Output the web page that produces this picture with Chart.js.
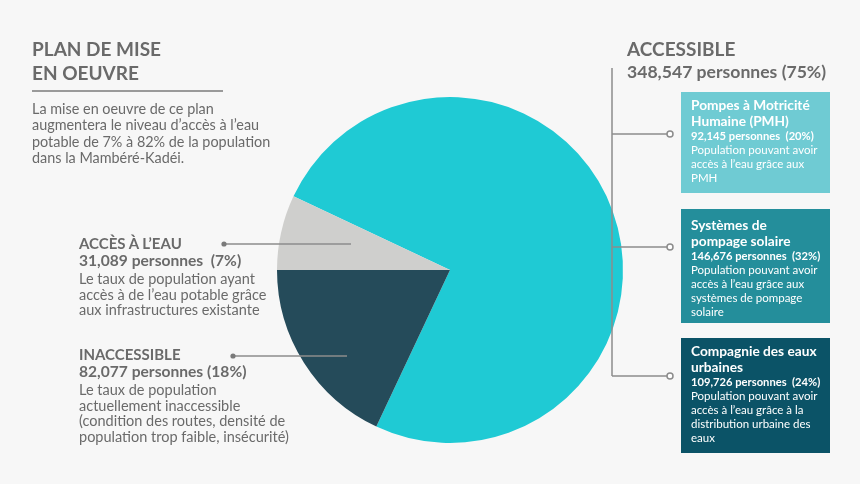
<!DOCTYPE html>
<html>
<head>
<meta charset="utf-8">
<script src="https://cdn.jsdelivr.net/npm/chart.js@4"></script>
<style>
  body { margin: 0; background: #f7f7f7; }
  #wrap { position: relative; width: 860px; height: 484px; overflow: hidden; background: #f7f7f7;
          font-family: Lato, 'Open Sans', sans-serif; color: #6a6a6a; }
  #chart { position: absolute; left: 0; top: 0; }
  .t { position: absolute; white-space: nowrap; }
  .big { font-weight: bold; font-size: 19px; line-height: 24px; }
  .head { font-weight: bold; font-size: 15px; line-height: 18px; }
  .num { font-weight: bold; font-size: 15.6px; line-height: 17px; }
  .txt { font-size: 14.5px; line-height: 15.5px; margin-top: 2px; }
  .rule { position: absolute; left: 32px; top: 90px; width: 191px; height: 2px; background: #9a9a9a; }
  .box { position: absolute; left: 681px; width: 149px; color: #fff; box-sizing: border-box; padding: 0 0 0 10px; }
  .box .bt { font-weight: bold; font-size: 13.7px; line-height: 16px; }
  .box .bn { font-weight: bold; font-size: 11.2px; line-height: 14px; }
  .box .bd { font-size: 11.5px; line-height: 14px; }
</style>
</head>
<body>
<div id="wrap">
  <canvas id="chart" width="860" height="484"></canvas>

  <div class="t big" style="left:32px; top:37px;">PLAN DE MISE<br>EN OEUVRE</div>
  <div class="rule"></div>
  <div class="t" id="intro" style="left:32px; top:101px; font-size:14.4px; line-height:16.3px;"></div>

  <div class="t" id="lblAcces" style="left:79px; top:234px;"></div>
  <div class="t" id="lblInacc" style="left:79px; top:345px;"></div>

  <div class="t big" style="left:627px; top:37px;">ACCESSIBLE</div>
  <div class="t num" id="accTotal" style="left:627px; top:63px; font-size:17.6px;"></div>

  <div class="box" id="box0" style="top:92px; height:101px; background:#6fcbd3; padding-top:5px;"></div>
  <div class="box" id="box1" style="top:209px; height:114px; background:#248e9b; padding-top:8px;"></div>
  <div class="box" id="box2" style="top:338px; height:115px; background:#0b5367; padding-top:5px;"></div>
</div>

<script>
// pie slices, clockwise from the upper-left edge
const sliceLabels = ['Accessible', 'Inaccessible', 'Accès à l\u2019eau'];
const slicePct = [75, 18, 7];
const slicePersons = ['348,547', '82,077', '31,089'];
const sliceColors = ['#1fcad4', '#254b5a', '#cfcfcd'];

// sub-categories of the accessible part
const subTitles = ['Pompes à Motricité<br>Humaine (PMH)', 'Systèmes de<br>pompage solaire', 'Compagnie des eaux<br>urbaines'];
const subPersons = ['92,145', '146,676', '109,726'];
const subPct = [20, 32, 24];
const subText = [
  'Population pouvant avoir<br>accès à l\u2019eau grâce aux<br>PMH',
  'Population pouvant avoir<br>accès à l\u2019eau grâce aux<br>systèmes de pompage<br>solaire',
  'Population pouvant avoir<br>accès à l\u2019eau grâce à la<br>distribution urbaine des<br>eaux'
];

const introText = 'La mise en oeuvre de ce plan<br>augmentera le niveau d\u2019accès à l\u2019eau<br>potable de 7% à 82% de la population<br>dans la Mambéré-Kadéi.';

document.getElementById('intro').innerHTML = introText;
document.getElementById('accTotal').innerText = `${slicePersons[0]} personnes (${slicePct[0]}%)`;

document.getElementById('lblAcces').innerHTML =
  `<div class="head">ACCÈS À L\u2019EAU</div>` +
  `<div class="num">${slicePersons[2]} personnes&nbsp; (${slicePct[2]}%)</div>` +
  `<div class="txt">Le taux de population ayant<br>accès à de l\u2019eau potable grâce<br>aux infrastructures existante</div>`;

document.getElementById('lblInacc').innerHTML =
  `<div class="head">INACCESSIBLE</div>` +
  `<div class="num">${slicePersons[1]} personnes (${slicePct[1]}%)</div>` +
  `<div class="txt">Le taux de population<br>actuellement inaccessible<br>(condition des routes, densité de<br>population trop faible, insécurité)</div>`;

subTitles.forEach((title, i) => {
  document.getElementById('box' + i).innerHTML =
    `<div class="bt">${title}</div>` +
    `<div class="bn">${subPersons[i]} personnes&nbsp; (${subPct[i]}%)</div>` +
    `<div class="bd">${subText[i]}</div>`;
});

// connector lines and dots
const connectors = {
  id: 'connectors',
  afterDraw(chart) {
    const c = chart.ctx;
    c.save();
    c.strokeStyle = '#8c8c8c';
    c.lineWidth = 1.5;

    // left labels
    [[224, 244, 351], [233, 356, 347]].forEach(([x0, y, x1]) => {
      c.beginPath(); c.moveTo(x0, y); c.lineTo(x1, y); c.stroke();
      c.fillStyle = '#7a7a7a';
      c.beginPath(); c.arc(x0, y, 2.6, 0, Math.PI * 2); c.fill();
    });

    // right tree
    c.beginPath(); c.moveTo(612, 68); c.lineTo(612, 376); c.stroke();
    [134, 247, 376].forEach(y => {
      c.beginPath(); c.moveTo(612, y); c.lineTo(667, y); c.stroke();
      c.fillStyle = '#ffffff';
      c.beginPath(); c.arc(670, y, 3, 0, Math.PI * 2); c.fill(); c.stroke();
    });
    c.restore();
  }
};

new Chart(document.getElementById('chart'), {
  type: 'pie',
  data: {
    labels: sliceLabels,
    datasets: [{
      data: slicePct,
      backgroundColor: sliceColors,
      borderWidth: 0
    }]
  },
  options: {
    responsive: false,
    animation: false,
    rotation: 295.2,
    layout: { padding: { left: 277, top: 97, right: 237, bottom: 41 } },
    plugins: { legend: { display: false }, tooltip: { enabled: false } }
  },
  plugins: [connectors]
});
</script>
</body>
</html>
